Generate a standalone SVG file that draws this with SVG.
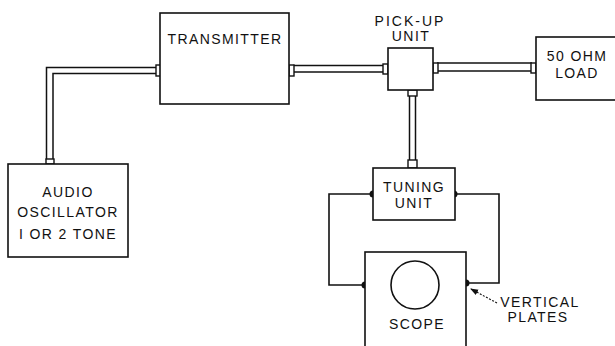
<svg xmlns="http://www.w3.org/2000/svg" width="615" height="346" viewBox="0 0 615 346">
<style>
.box{fill:#fff;stroke:#111;stroke-width:1.6}
.w{fill:none;stroke:#111;stroke-width:1.6}
.coax{fill:none;stroke:#111;stroke-width:1.5}
.conn{fill:#fff;stroke:#111;stroke-width:1.4}
.t{font-family:"Liberation Sans",Arial,sans-serif;font-size:14px;fill:#111;text-anchor:middle;letter-spacing:1.4px}
.dot{fill:#111}
</style>
<defs>
<marker id="ah" markerWidth="8" markerHeight="8" refX="7" refY="4" orient="auto" markerUnits="userSpaceOnUse">
<path d="M0,1 L8,4 L0,7 Z" fill="#111"/>
</marker>
</defs>
<g id="connectors">
<path class="coax" d="M46.5,160 V67.5 H157"/>
<path class="coax" d="M53,160 V73.5 H157"/>
<rect class="conn" x="46" y="159" width="8" height="5"/>
<rect class="conn" x="156" y="65" width="5" height="11"/>
<path class="coax" d="M293,65.5 H384"/>
<path class="coax" d="M293,72 H384"/>
<rect class="conn" x="289" y="65" width="5" height="11"/>
<rect class="conn" x="383" y="64" width="5" height="10"/>
<path class="coax" d="M437,63 H532"/>
<path class="coax" d="M437,71 H532"/>
<rect class="conn" x="433" y="63" width="5" height="10"/>
<rect class="conn" x="531" y="63" width="5" height="10"/>
<path class="coax" d="M409.5,96 V160"/>
<path class="coax" d="M415.5,96 V160"/>
<rect class="conn" x="408" y="90" width="9" height="6"/>
<rect class="conn" x="408" y="160" width="9" height="8"/>
<path class="w" d="M373,194 H329 V285 H365"/>
<path class="w" d="M454,194 H499 V283 H466"/>
<circle class="dot" cx="373" cy="194" r="3.5"/>
<circle class="dot" cx="454" cy="194" r="3.5"/>
<circle class="dot" cx="365" cy="285" r="3.5"/>
<circle class="dot" cx="466" cy="283" r="3.5"/>
<line x1="497" y1="303" x2="471" y2="289" stroke="#111" stroke-width="1.1" stroke-dasharray="2,1.5" marker-end="url(#ah)"/>
</g>
<g id="transmitter">
<rect class="box" x="160" y="13" width="129" height="91"/>
<text class="t" x="225" y="44">TRANSMITTER</text>
</g>
<g id="audio-oscillator">
<rect class="box" x="8" y="164" width="120" height="93"/>
<text class="t" x="68" y="197">AUDIO</text>
<text class="t" x="68" y="217">OSCILLATOR</text>
<text class="t" x="68" y="239">I OR 2 TONE</text>
</g>
<g id="pickup-unit">
<rect class="box" x="388" y="48" width="45" height="42"/>
<text class="t" x="410" y="26" style="letter-spacing:2px">PICK-UP</text>
<text class="t" x="411" y="41">UNIT</text>
</g>
<g id="load">
<rect class="box" x="536" y="37" width="85" height="63"/>
<text class="t" x="577" y="61">50 OHM</text>
<text class="t" x="577" y="78">LOAD</text>
</g>
<g id="tuning-unit">
<rect class="box" x="373" y="168" width="82" height="52"/>
<text class="t" x="414" y="192">TUNING</text>
<text class="t" x="414" y="208">UNIT</text>
</g>
<g id="scope">
<rect class="box" x="365" y="252" width="101" height="100"/>
<circle class="w" cx="415" cy="285" r="24"/>
<text class="t" x="417" y="329">SCOPE</text>
</g>
<g id="vertical-plates-label">
<text class="t" x="540" y="307">VERTICAL</text>
<text class="t" x="538" y="322">PLATES</text>
</g>
</svg>
